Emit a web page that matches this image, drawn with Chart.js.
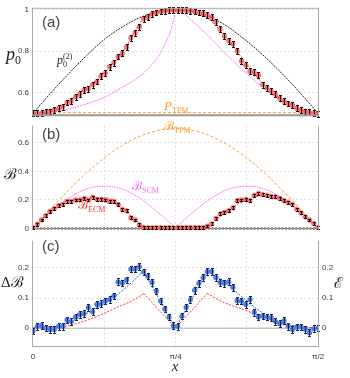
<!DOCTYPE html>
<html>
<head>
<meta charset="utf-8">
<script src="https://cdn.jsdelivr.net/npm/chart.js@4.4.1/dist/chart.umd.min.js"></script>
<style>
  html, body { margin: 0; padding: 0; background: #fff; }
  #wrap { position: relative; width: 350px; height: 378px; overflow: hidden; }
  canvas { position: absolute; left: 0; }
</style>
</head>
<body>
<div id="wrap">
  <canvas id="pa" width="350" height="124" style="top:0px"></canvas>
  <canvas id="pb" width="350" height="120" style="top:118px"></canvas>
  <canvas id="pc" width="350" height="145" style="top:233px"></canvas>
</div>
<script>
// x is given as a fraction of pi/2 (0 .. 1)
const X_TICKS = [0, 0.25, 0.5, 0.75, 1];
const X_LABELS = ['0', '', 'π/4', '', 'π/2'];

// measured points (68 settings across [0, pi/2])
const N_PTS = 68;
const P0_MEAS = [0.50, 0.50, 0.50, 0.505, 0.509, 0.517, 0.524, 0.532, 0.552, 0.558, 0.580, 0.592, 0.612, 0.618, 0.638, 0.653, 0.679,
  0.694, 0.724, 0.744, 0.774, 0.789, 0.820, 0.865, 0.888, 0.918, 0.956, 0.964, 0.979, 0.986, 0.991, 0.994, 0.997, 0.997,
  0.997, 0.997, 0.997, 0.994, 0.991, 0.986, 0.982, 0.974, 0.964, 0.941, 0.906, 0.873, 0.850, 0.835, 0.800, 0.752, 0.733,
  0.703, 0.698, 0.683, 0.638, 0.623, 0.608, 0.592, 0.573, 0.558, 0.547, 0.539, 0.524, 0.515, 0.509, 0.505, 0.500, 0.498];
const B_MEAS = [0.005, 0.03, 0.06, 0.09, 0.12, 0.14, 0.16, 0.17, 0.19, 0.19, 0.20, 0.20, 0.21, 0.20, 0.22, 0.205, 0.205,
  0.20, 0.19, 0.19, 0.17, 0.135, 0.125, 0.075, 0.06, 0.025, 0.008, 0.005, 0.005, 0.007, 0.006, 0.005, 0.006, 0.005,
  0.006, 0.006, 0.006, 0.006, 0.006, 0.006, 0.006, 0.017, 0.032, 0.071, 0.103, 0.114, 0.125, 0.146, 0.196, 0.200, 0.204,
  0.196, 0.232, 0.247, 0.239, 0.232, 0.226, 0.222, 0.211, 0.196, 0.183, 0.168, 0.135, 0.110, 0.082, 0.060, 0.035, 0.006];
const DB_MEAS = [-0.009, 0.006, 0.009, 0.001, -0.004, -0.004, 0.006, 0.006, 0.027, 0.022, 0.037, 0.045, 0.048, 0.069, 0.055, 0.079, 0.081,
  0.090, 0.095, 0.107, 0.154, 0.150, 0.160, 0.196, 0.196, 0.204, 0.187, 0.173, 0.152, 0.123, 0.090, 0.064, 0.037, 0.008,
  0.006, 0.040, 0.069, 0.095, 0.126, 0.149, 0.168, 0.188, 0.188, 0.168, 0.152, 0.149, 0.154, 0.136, 0.092, 0.090, 0.079,
  0.095, 0.053, 0.037, 0.040, 0.037, 0.035, 0.022, 0.015, 0.025, 0.006, -0.004, 0.004, 0.004, -0.004, -0.015, -0.002, 0.0];
const ERR_A = 0.014, ERR_B = 0.01, ERR_C = 0.011;

// theory curves
const T16 = [0, 0.0625, 0.125, 0.1875, 0.25, 0.3125, 0.375, 0.4375, 0.5, 0.5625, 0.625, 0.6875, 0.75, 0.8125, 0.875, 0.9375, 1];
const P0_TWO = [0.5, 0.598, 0.691, 0.778, 0.856, 0.916, 0.962, 0.99, 1.0, 0.99, 0.962, 0.914, 0.848, 0.774, 0.69, 0.598, 0.5];
const P0_SCM_T = [0, 0.0625, 0.125, 0.1875, 0.25, 0.3125, 0.375, 0.4375, 0.469, 0.49, 0.5, 0.52, 0.5625, 0.625, 0.6875, 0.75, 0.8125, 0.875, 0.9375, 1];
const P0_SCM = [0.5, 0.505, 0.52, 0.545, 0.577, 0.625, 0.68, 0.77, 0.85, 0.93, 0.995, 0.99, 0.94, 0.86, 0.77, 0.69, 0.62, 0.565, 0.52, 0.5];
const P0_ECM_T = [0, 0.0625, 0.125, 0.1875, 0.25, 0.3125, 0.375, 0.39, 0.4375, 0.5, 0.5625, 0.61, 0.625, 0.6875, 0.75, 0.8125, 0.875, 0.9375, 1];
const P0_ECM = [0.5, 0.505, 0.55, 0.62, 0.695, 0.79, 0.935, 0.962, 0.985, 0.998, 0.99, 0.962, 0.945, 0.85, 0.735, 0.635, 0.565, 0.517, 0.5];
const P_TPM_T = [0, 1];
const P_TPM = [0.503, 0.503];

const B_TPM = [0, 0.137, 0.268, 0.389, 0.495, 0.582, 0.647, 0.687, 0.70, 0.687, 0.647, 0.582, 0.495, 0.389, 0.268, 0.137, 0];
const B_SCM = [0, 0.115, 0.212, 0.277, 0.297, 0.277, 0.212, 0.115, 0.005, 0.115, 0.212, 0.277, 0.297, 0.277, 0.212, 0.115, 0];
const B_ECM_T = [0, 0.031, 0.0625, 0.125, 0.1875, 0.25, 0.281, 0.3125, 0.344, 0.375, 0.385, 0.61, 0.625, 0.656, 0.6875, 0.719, 0.75, 0.8125, 0.875, 0.9375, 1];
const B_ECM = [0, 0.065, 0.12, 0.19, 0.21, 0.215, 0.2, 0.15, 0.085, 0.03, 0, 0, 0.03, 0.085, 0.125, 0.17, 0.2, 0.232, 0.205, 0.12, 0];

const DB_TH_T = [0, 0.107, 0.177, 0.235, 0.294, 0.35, 0.387, 0.5, 0.612, 0.673, 0.732, 0.79, 0.849, 0.908, 1];
const DB_TH = [0, 0.011, 0.043, 0.074, 0.11, 0.155, 0.19, 0, 0.19, 0.152, 0.105, 0.061, 0.027, 0.009, 0];
const E_TH_T = [0, 0.107, 0.176, 0.235, 0.294, 0.35, 0.389, 0.5, 0.611, 0.673, 0.732, 0.79, 0.849, 0.908, 1];
const E_TH = [0, 0.005, 0.022, 0.043, 0.069, 0.092, 0.115, 0, 0.115, 0.084, 0.064, 0.043, 0.022, 0.008, 0];

const ORANGE = '#ff9a30', MAGENTA = '#ff5cff', RED = '#ff3030', BLUE = '#3050ee';
const SERIF = '"Liberation Serif"', SCRIPT = '"DejaVu Serif"', SANS = '"Liberation Sans"';

const T_PTS = Array.from({length: N_PTS}, (_, i) => i / (N_PTS - 1));

function pointSet(vals, fill, errColor, err) {
  return {
    data: vals.map((v, i) => ({x: T_PTS[i], y: v})),
    showLine: false, pointRadius: 2.6, pointBorderWidth: 0,
    pointBackgroundColor: fill, errors: vals.map(() => err), errorColor: errColor, order: 0
  };
}

// split a curve at kinks so the monotone spline keeps them sharp
function curveSets(ts, vs, cuts, color, dash, width) {
  const out = [];
  let s = 0;
  [...cuts, ts.length - 1].forEach(c => {
    const pts = [];
    for (let i = s; i <= c; i++) pts.push({x: ts[i], y: vs[i]});
    out.push({
      data: pts, borderColor: color, borderDash: dash, borderWidth: width,
      pointRadius: 0, fill: false, cubicInterpolationMode: 'monotone', order: 1
    });
    s = c;
  });
  return out;
}

const errorBars = {
  id: 'errorBars',
  afterDatasetsDraw(chart) {
    const ctx = chart.ctx;
    chart.data.datasets.forEach((ds, di) => {
      if (!ds.errors) return;
      const meta = chart.getDatasetMeta(di);
      const ys = chart.scales[meta.yAxisID];
      ctx.save();
      ctx.strokeStyle = ds.errorColor;
      ctx.lineWidth = 1;
      meta.data.forEach((pt, i) => {
        const v = ds.data[i].y, e = ds.errors[i];
        const y1 = Math.round(ys.getPixelForValue(v - e)) + 0.5;
        const y2 = Math.round(ys.getPixelForValue(v + e)) + 0.5;
        const x = Math.round(pt.x) + 0.5;
        ctx.beginPath();
        ctx.moveTo(x, y1); ctx.lineTo(x, y2);
        ctx.moveTo(x - 1.5, y1); ctx.lineTo(x + 1.5, y1);
        ctx.moveTo(x - 1.5, y2); ctx.lineTo(x + 1.5, y2);
        ctx.stroke();
      });
      ctx.restore();
    });
  }
};

const frame = {
  id: 'frame',
  afterDraw(chart, args, opts) {
    const {left, right, top, bottom} = chart.chartArea;
    const ctx = chart.ctx;
    ctx.save();
    ctx.strokeStyle = '#aaa';
    ctx.lineWidth = 1;
    ctx.beginPath();
    ctx.moveTo(left + 0.5, top); ctx.lineTo(left + 0.5, bottom);
    ctx.moveTo(right - 0.5, top); ctx.lineTo(right - 0.5, bottom);
    if (opts.top) { ctx.moveTo(left, top + 0.5); ctx.lineTo(right, top + 0.5); }
    ctx.stroke();
    if (opts.bottomWidth) {
      ctx.strokeStyle = opts.bottomColor || '#aaa';
      ctx.lineWidth = opts.bottomWidth;
      ctx.beginPath();
      ctx.moveTo(left, bottom - opts.bottomWidth / 2); ctx.lineTo(right, bottom - opts.bottomWidth / 2);
      ctx.stroke();
    }
    ctx.restore();
  }
};

function drawParts(ctx, x, y, parts, color, align) {
  let w = 0;
  parts.forEach(p => { ctx.font = p[1]; if (p[3] !== false) w += ctx.measureText(p[0]).width; });
  let cx = align === 'center' ? x - w / 2 : x;
  ctx.textAlign = 'left';
  ctx.textBaseline = 'alphabetic';
  ctx.fillStyle = color;
  parts.forEach(p => {
    ctx.font = p[1];
    ctx.fillText(p[0], cx, y + (p[2] || 0));
    if (p[3] !== false) cx += ctx.measureText(p[0]).width;
  });
}

const notes = {
  id: 'notes',
  afterDraw(chart, args, opts) {
    const ctx = chart.ctx;
    ctx.save();
    (opts.items || []).forEach(it => drawParts(ctx, it.x, it.y, it.parts, it.color || '#222', it.align));
    ctx.restore();
  }
};

function xScale(showTicks) {
  return {
    type: 'linear', min: -0.0035, max: 1.0035,
    afterBuildTicks: s => { s.ticks = X_TICKS.map(v => ({value: v})); },
    afterFit: s => { s.height = showTicks ? 31 : 0; },
    grid: {color: '#e0e0e0', lineWidth: 1, drawTicks: false},
    border: {display: false, dash: [2, 2]},
    ticks: {
      display: showTicks, autoSkip: false, maxRotation: 0, padding: 5,
      color: '#333', font: {family: 'Liberation Sans', size: 8},
      callback: v => X_LABELS[X_TICKS.indexOf(v)]
    }
  };
}

function yScale(min, max, ticks, labels, pos, width, showGrid) {
  return {
    type: 'linear', min, max, position: pos,
    afterBuildTicks: s => { s.ticks = ticks.map(v => ({value: v})); },
    afterFit: s => { s.width = width; },
    grid: {display: showGrid, color: '#e0e0e0', lineWidth: 1, drawTicks: false},
    border: {display: false, dash: [2, 2]},
    ticks: {
      autoSkip: false, padding: 3, color: '#333', font: {family: 'Liberation Sans', size: 8},
      callback: v => labels[ticks.indexOf(v)]
    }
  };
}

function baseOptions(padding, scales, frameOpts, items) {
  return {
    responsive: false, animation: false, events: [],
    layout: {padding},
    plugins: {legend: {display: false}, tooltip: {enabled: false}, frame: frameOpts, notes: {items}},
    scales
  };
}

// panel (a)
new Chart(document.getElementById('pa'), {
  type: 'line',
  data: {
    datasets: [
      pointSet(P0_MEAS, 'rgba(255,85,85,0.85)', '#111', ERR_A),
      ...curveSets(P_TPM_T, P_TPM, [], ORANGE, [3, 2], 1),
      ...curveSets(T16, P0_TWO, [], '#222', [2, 1], 1),
      ...curveSets(P0_SCM_T, P0_SCM, [10], MAGENTA, [1.5, 1], 1),
      ...curveSets(P0_ECM_T, P0_ECM, [7, 11], RED, [2, 1.5], 1)
    ]
  },
  options: baseOptions({top: 3, bottom: 6, left: 0, right: 31},
    {x: xScale(false), y: yScale(0.486, 1.009, [0.6, 0.8, 1], ['0.6', '0.8', '1'], 'left', 32, true)},
    {top: true, bottomWidth: 2, bottomColor: '#999'},
    [
      {x: 42, y: 27, color: '#444', parts: [['(a)', '15px ' + SANS]]},
      {x: 6, y: 60, parts: [['p', 'italic 18px ' + SERIF], ['0', '12px ' + SERIF, 4]]},
      {x: 57, y: 64, parts: [['p', 'italic 12px ' + SERIF], ['0', '8px ' + SERIF, 2.5, false], ['(2)', '8px ' + SERIF, -5]]},
      {x: 164, y: 110, color: ORANGE, parts: [['P', 'italic 13px ' + SERIF], ['TPM', '8px ' + SERIF, 2.5]]}
    ]),
  plugins: [errorBars, frame, notes]
});

// panel (b)
new Chart(document.getElementById('pb'), {
  type: 'line',
  data: {
    datasets: [
      pointSet(B_MEAS, 'rgba(255,85,85,0.85)', '#111', ERR_B),
      {data: [{x: 0, y: 0}, {x: 1, y: 0}], borderColor: '#999', borderWidth: 3, borderDash: [2, 1.5], pointRadius: 0, order: 2},
      {data: [{x: 0, y: 0}, {x: 1, y: 0}], borderColor: '#666', borderWidth: 1, pointRadius: 0, order: 2},
      ...curveSets(T16, B_TPM, [], ORANGE, [3, 2], 1),
      ...curveSets(T16, B_SCM, [8], MAGENTA, [1.5, 1], 1),
      ...curveSets(B_ECM_T, B_ECM, [10, 11], RED, [2, 1.5], 1)
    ]
  },
  options: baseOptions({top: 1, bottom: 5, left: 0, right: 31},
    {x: xScale(false), y: yScale(-0.012, 0.72, [0, 0.2, 0.4, 0.6], ['0', '0.2', '0.4', '0.6'], 'left', 32, true)},
    {top: false},
    [
      {x: 42, y: 21, color: '#444', parts: [['(b)', '15px ' + SANS]]},
      {x: 4, y: 61, parts: [['ℬ', '15px ' + SCRIPT]]},
      {x: 164, y: 12, color: ORANGE, parts: [['ℬ', '12px ' + SCRIPT], ['TPM', '8px ' + SERIF, 2.5]]},
      {x: 132, y: 72, color: MAGENTA, parts: [['ℬ', '12px ' + SCRIPT], ['SCM', '8px ' + SERIF, 2.5]]},
      {x: 78, y: 91, color: RED, parts: [['ℬ', '12px ' + SCRIPT], ['ECM', '8px ' + SERIF, 2.5]]}
    ]),
  plugins: [errorBars, frame, notes]
});

// panel (c)
new Chart(document.getElementById('pc'), {
  type: 'line',
  data: {
    datasets: [
      pointSet(DB_MEAS, '#4a7fe0', '#1a2560', ERR_C),
      {data: [{x: 0, y: 0}, {x: 1, y: 0}], borderColor: '#aaa', borderWidth: 1, pointRadius: 0, order: 2},
      ...curveSets(E_TH_T, E_TH, [6, 7, 8], RED, [2, 1.5], 1),
      ...curveSets(DB_TH_T, DB_TH, [6, 7, 8], BLUE, [2, 1.5], 1)
    ]
  },
  options: baseOptions({top: 1, bottom: 0, left: 0, right: 0},
    {
      x: xScale(true),
      y: yScale(-0.0625, 0.29, [0, 0.1, 0.2], ['0', '0.1', '0.2'], 'left', 32, true),
      y2: yScale(-0.0625, 0.29, [0, 0.1, 0.2], ['0', '0.1', '0.2'], 'right', 31, false)
    },
    {top: false, bottomWidth: 1, bottomColor: '#aaa'},
    [
      {x: 42, y: 18, color: '#444', parts: [['(c)', '15px ' + SANS]]},
      {x: 1, y: 54, parts: [['Δ', '15px ' + SERIF], ['ℬ', '15px ' + SCRIPT]]},
      {x: 334, y: 55, parts: [['ℰ', '15px ' + SCRIPT]]},
      {x: 175, y: 138, align: 'center', parts: [['x', 'italic 15px ' + SERIF]]}
    ]),
  plugins: [errorBars, frame, notes]
});
</script>
</body>
</html>
